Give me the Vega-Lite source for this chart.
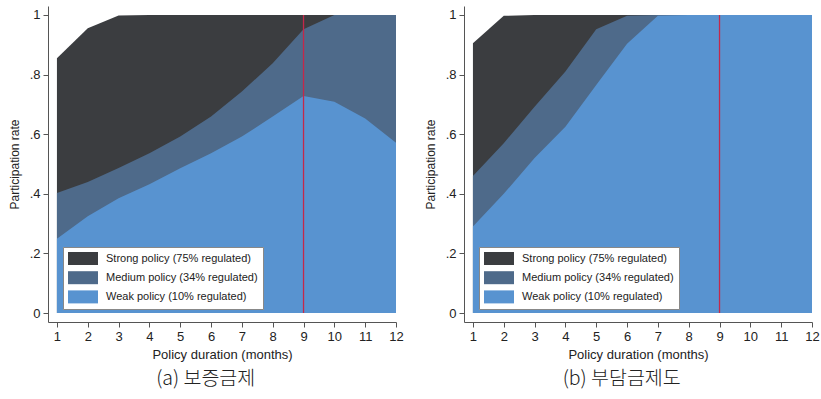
{
  "$schema": "https://vega.github.io/schema/vega-lite/v6.json",
  "background": "white",
  "padding": {"left": 8, "top": 6, "right": 0, "bottom": 5},
  "datasets": {
    "a": [
      {"month": 1, "policy": "Strong policy (75% regulated)", "rate": 0.855},
      {"month": 2, "policy": "Strong policy (75% regulated)", "rate": 0.955},
      {"month": 3, "policy": "Strong policy (75% regulated)", "rate": 0.998},
      {"month": 4, "policy": "Strong policy (75% regulated)", "rate": 1.0},
      {"month": 5, "policy": "Strong policy (75% regulated)", "rate": 1.0},
      {"month": 6, "policy": "Strong policy (75% regulated)", "rate": 1.0},
      {"month": 7, "policy": "Strong policy (75% regulated)", "rate": 1.0},
      {"month": 8, "policy": "Strong policy (75% regulated)", "rate": 1.0},
      {"month": 9, "policy": "Strong policy (75% regulated)", "rate": 1.0},
      {"month": 10, "policy": "Strong policy (75% regulated)", "rate": 1.0},
      {"month": 11, "policy": "Strong policy (75% regulated)", "rate": 1.0},
      {"month": 12, "policy": "Strong policy (75% regulated)", "rate": 1.0},
      {"month": 1, "policy": "Medium policy (34% regulated)", "rate": 0.403},
      {"month": 2, "policy": "Medium policy (34% regulated)", "rate": 0.44},
      {"month": 3, "policy": "Medium policy (34% regulated)", "rate": 0.487},
      {"month": 4, "policy": "Medium policy (34% regulated)", "rate": 0.536},
      {"month": 5, "policy": "Medium policy (34% regulated)", "rate": 0.592},
      {"month": 6, "policy": "Medium policy (34% regulated)", "rate": 0.659},
      {"month": 7, "policy": "Medium policy (34% regulated)", "rate": 0.743},
      {"month": 8, "policy": "Medium policy (34% regulated)", "rate": 0.838},
      {"month": 9, "policy": "Medium policy (34% regulated)", "rate": 0.952},
      {"month": 10, "policy": "Medium policy (34% regulated)", "rate": 1.0},
      {"month": 11, "policy": "Medium policy (34% regulated)", "rate": 1.0},
      {"month": 12, "policy": "Medium policy (34% regulated)", "rate": 1.0},
      {"month": 1, "policy": "Weak policy (10% regulated)", "rate": 0.249},
      {"month": 2, "policy": "Weak policy (10% regulated)", "rate": 0.325},
      {"month": 3, "policy": "Weak policy (10% regulated)", "rate": 0.385},
      {"month": 4, "policy": "Weak policy (10% regulated)", "rate": 0.432},
      {"month": 5, "policy": "Weak policy (10% regulated)", "rate": 0.486},
      {"month": 6, "policy": "Weak policy (10% regulated)", "rate": 0.536},
      {"month": 7, "policy": "Weak policy (10% regulated)", "rate": 0.592},
      {"month": 8, "policy": "Weak policy (10% regulated)", "rate": 0.659},
      {"month": 9, "policy": "Weak policy (10% regulated)", "rate": 0.728},
      {"month": 10, "policy": "Weak policy (10% regulated)", "rate": 0.709},
      {"month": 11, "policy": "Weak policy (10% regulated)", "rate": 0.653},
      {"month": 12, "policy": "Weak policy (10% regulated)", "rate": 0.571}
    ],
    "b": [
      {"month": 1, "policy": "Strong policy (75% regulated)", "rate": 0.905},
      {"month": 2, "policy": "Strong policy (75% regulated)", "rate": 0.997},
      {"month": 3, "policy": "Strong policy (75% regulated)", "rate": 1.0},
      {"month": 4, "policy": "Strong policy (75% regulated)", "rate": 1.0},
      {"month": 5, "policy": "Strong policy (75% regulated)", "rate": 1.0},
      {"month": 6, "policy": "Strong policy (75% regulated)", "rate": 1.0},
      {"month": 7, "policy": "Strong policy (75% regulated)", "rate": 1.0},
      {"month": 8, "policy": "Strong policy (75% regulated)", "rate": 1.0},
      {"month": 9, "policy": "Strong policy (75% regulated)", "rate": 1.0},
      {"month": 10, "policy": "Strong policy (75% regulated)", "rate": 1.0},
      {"month": 11, "policy": "Strong policy (75% regulated)", "rate": 1.0},
      {"month": 12, "policy": "Strong policy (75% regulated)", "rate": 1.0},
      {"month": 1, "policy": "Medium policy (34% regulated)", "rate": 0.46},
      {"month": 2, "policy": "Medium policy (34% regulated)", "rate": 0.57},
      {"month": 3, "policy": "Medium policy (34% regulated)", "rate": 0.692},
      {"month": 4, "policy": "Medium policy (34% regulated)", "rate": 0.81},
      {"month": 5, "policy": "Medium policy (34% regulated)", "rate": 0.952},
      {"month": 6, "policy": "Medium policy (34% regulated)", "rate": 0.997},
      {"month": 7, "policy": "Medium policy (34% regulated)", "rate": 1.0},
      {"month": 8, "policy": "Medium policy (34% regulated)", "rate": 1.0},
      {"month": 9, "policy": "Medium policy (34% regulated)", "rate": 1.0},
      {"month": 10, "policy": "Medium policy (34% regulated)", "rate": 1.0},
      {"month": 11, "policy": "Medium policy (34% regulated)", "rate": 1.0},
      {"month": 12, "policy": "Medium policy (34% regulated)", "rate": 1.0},
      {"month": 1, "policy": "Weak policy (10% regulated)", "rate": 0.29},
      {"month": 2, "policy": "Weak policy (10% regulated)", "rate": 0.4},
      {"month": 3, "policy": "Weak policy (10% regulated)", "rate": 0.52},
      {"month": 4, "policy": "Weak policy (10% regulated)", "rate": 0.625},
      {"month": 5, "policy": "Weak policy (10% regulated)", "rate": 0.765},
      {"month": 6, "policy": "Weak policy (10% regulated)", "rate": 0.903},
      {"month": 7, "policy": "Weak policy (10% regulated)", "rate": 0.997},
      {"month": 8, "policy": "Weak policy (10% regulated)", "rate": 1.0},
      {"month": 9, "policy": "Weak policy (10% regulated)", "rate": 1.0},
      {"month": 10, "policy": "Weak policy (10% regulated)", "rate": 1.0},
      {"month": 11, "policy": "Weak policy (10% regulated)", "rate": 1.0},
      {"month": 12, "policy": "Weak policy (10% regulated)", "rate": 1.0}
    ]
  },
  "config": {
    "view": {"stroke": null},
    "font": "Liberation Sans",
    "axis": {
      "domainColor": "#555555",
      "tickColor": "#555555",
      "labelColor": "#222222",
      "titleColor": "#222222",
      "labelFont": "Liberation Sans",
      "titleFont": "Liberation Sans",
      "labelFontSize": 13,
      "titleFontSize": 12,
      "titleFontWeight": "normal",
      "grid": false,
      "tickSize": 5,
      "labelFlush": false
    },
    "title": {"font": "Noto Sans CJK KR", "fontSize": 19.5, "fontWeight": 300, "color": "#222222", "orient": "bottom", "offset": 9, "frame": "bounds", "anchor": "middle"},
    "concat": {"spacing": 20},
    "legend": {
      "orient": "none",
      "legendX": 15,
      "legendY": 241,
      "fillColor": "white",
      "strokeColor": "#888888",
      "padding": 5,
      "rowPadding": 6.2,
      "symbolType": "M-1,-1H3.615V1H-1Z",
      "symbolSize": 169,
      "symbolStrokeWidth": 0,
      "symbolOpacity": 1,
      "labelFont": "Liberation Sans",
      "labelFontSize": 11,
      "labelColor": "#222222",
      "labelOffset": 25,
      "labelLimit": 300
    }
  },
  "hconcat": [
    {
      "title": {"text": "(a) 보증금제"},
      "width": 348,
      "height": 316,
      "data": {"name": "a"},
      "resolve": {"scale": {"color": "independent"}, "legend": {"color": "independent"}},
      "encoding": {
        "x": {"field": "month", "type": "quantitative", "scale": {"domain": [0.71, 12], "nice": false, "zero": false}, "axis": {"values": [1,2,3,4,5,6,7,8,9,10,11,12], "title": "Policy duration (months)", "titleFontSize": 13, "labelPadding": 3, "titlePadding": 5}},
        "y": {"field": "rate", "type": "quantitative", "stack": null, "scale": {"domain": [-0.03, 1.03], "nice": false, "zero": false}, "axis": {"values": [0, 0.2, 0.4, 0.6, 0.8, 1], "labelExpr": "datum.value == 0 ? '0' : datum.value == 1 ? '1' : replace(format(datum.value, '.1f'), '0.', '.')", "title": "Participation rate", "titlePadding": 8, "labelPadding": 3}},
        "color": {"field": "policy", "type": "nominal", "scale": {"domain": ["Strong policy (75% regulated)", "Medium policy (34% regulated)", "Weak policy (10% regulated)"], "range": ["#3b3d40", "#4e6a8a", "#5893d0"]}, "legend": {"title": null, "labelExpr": "datum.label + '\u2003\u2003\u2003\u2003\u2003\u00a0'"}}
      },
      "layer": [
        {"transform": [{"filter": "datum.policy === 'Strong policy (75% regulated)'"}], "mark": {"type": "area", "opacity": 1}, "encoding": {"y2": {"datum": 0}}},
        {"transform": [{"filter": "datum.policy === 'Medium policy (34% regulated)'"}], "mark": {"type": "area", "opacity": 1}, "encoding": {"y2": {"datum": 0}}},
        {"transform": [{"filter": "datum.policy === 'Weak policy (10% regulated)'"}], "mark": {"type": "area", "opacity": 1}, "encoding": {"y2": {"datum": 0}}},
        {"data": {"values": [{"month": 9, "lo": 0, "hi": 1}]}, "mark": {"type": "rule", "color": "#c4284a", "strokeWidth": 1.3}, "encoding": {"x": {"field": "month", "type": "quantitative"}, "y": {"field": "lo", "type": "quantitative"}, "y2": {"field": "hi"}, "color": {"value": "#c4284a"}}}
      ]
    },
    {
      "title": {"text": "(b) 부담금제도"},
      "width": 348,
      "height": 316,
      "data": {"name": "b"},
      "resolve": {"scale": {"color": "independent"}, "legend": {"color": "independent"}},
      "encoding": {
        "x": {"field": "month", "type": "quantitative", "scale": {"domain": [0.71, 12], "nice": false, "zero": false}, "axis": {"values": [1,2,3,4,5,6,7,8,9,10,11,12], "title": "Policy duration (months)", "titleFontSize": 13, "labelPadding": 3, "titlePadding": 5}},
        "y": {"field": "rate", "type": "quantitative", "stack": null, "scale": {"domain": [-0.03, 1.03], "nice": false, "zero": false}, "axis": {"values": [0, 0.2, 0.4, 0.6, 0.8, 1], "labelExpr": "datum.value == 0 ? '0' : datum.value == 1 ? '1' : replace(format(datum.value, '.1f'), '0.', '.')", "title": "Participation rate", "titlePadding": 8, "labelPadding": 3}},
        "color": {"field": "policy", "type": "nominal", "scale": {"domain": ["Strong policy (75% regulated)", "Medium policy (34% regulated)", "Weak policy (10% regulated)"], "range": ["#3b3d40", "#4e6a8a", "#5893d0"]}, "legend": {"title": null, "labelExpr": "datum.label + '\u2003\u2003\u2003\u2003\u2003\u00a0'"}}
      },
      "layer": [
        {"transform": [{"filter": "datum.policy === 'Strong policy (75% regulated)'"}], "mark": {"type": "area", "opacity": 1}, "encoding": {"y2": {"datum": 0}}},
        {"transform": [{"filter": "datum.policy === 'Medium policy (34% regulated)'"}], "mark": {"type": "area", "opacity": 1}, "encoding": {"y2": {"datum": 0}}},
        {"transform": [{"filter": "datum.policy === 'Weak policy (10% regulated)'"}], "mark": {"type": "area", "opacity": 1}, "encoding": {"y2": {"datum": 0}}},
        {"data": {"values": [{"month": 9, "lo": 0, "hi": 1}]}, "mark": {"type": "rule", "color": "#c4284a", "strokeWidth": 1.3}, "encoding": {"x": {"field": "month", "type": "quantitative"}, "y": {"field": "lo", "type": "quantitative"}, "y2": {"field": "hi"}, "color": {"value": "#c4284a"}}}
      ]
    }
  ],
  "resolve": {"scale": {"color": "independent"}, "legend": {"color": "independent"}}
}
